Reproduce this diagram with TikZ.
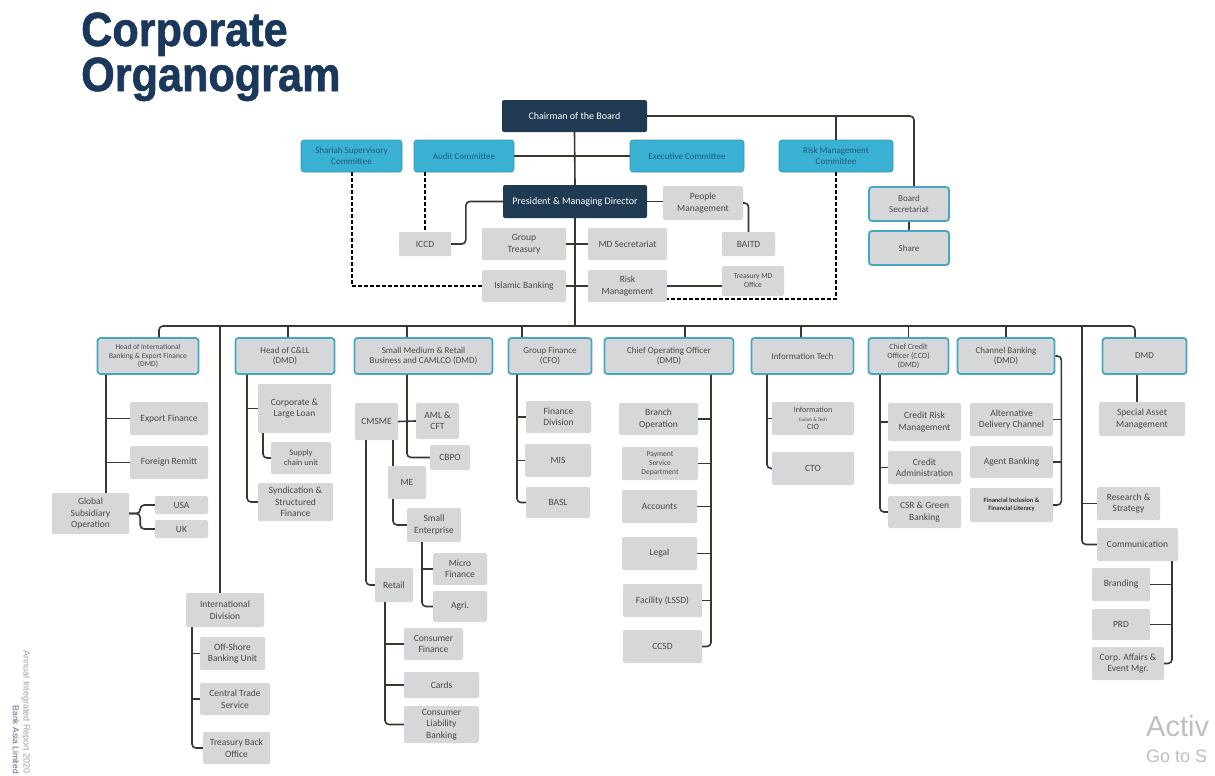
\documentclass[tikz,border=0pt]{standalone}
\usepackage{fontspec}
\setmainfont{Carlito}
\newfontfamily\titlefont[FakeStretch=0.9,FakeBold=1.2]{Liberation Sans}
\newfontfamily\winfont{Liberation Sans}
\usepackage{tikz}
\definecolor{navy}{HTML}{1F3A52}
\definecolor{titleblue}{HTML}{1A385C}
\definecolor{cyanbox}{HTML}{3AB0D3}
\definecolor{cyantext}{HTML}{1E5E7C}
\definecolor{tealedge}{HTML}{45A7C1}
\definecolor{boxgrey}{HTML}{D6D7D9}
\definecolor{unittext}{HTML}{4A4A4A}
\definecolor{wire}{HTML}{3A372F}
\tikzstyle{topbox} = [fill=navy, text=white, rounded corners=2pt, inner sep=1pt,
    align=center, font=\fontsize{10}{12}\selectfont]
\tikzstyle{committee} = [fill=cyanbox, draw=cyanbox!85!black, line width=0.6pt, text=cyantext,
    rounded corners=3pt, inner sep=1pt, align=center, font=\fontsize{9}{10.5}\selectfont]
\tikzstyle{headbox} = [fill=boxgrey, draw=tealedge, line width=1.8pt, text=unittext,
    rounded corners=3pt, inner sep=1pt, align=center, font=\fontsize{9}{10.5}\selectfont]
\tikzstyle{unitbox} = [fill=boxgrey, text=unittext, rounded corners=2pt, inner sep=1pt,
    align=center, font=\fontsize{9.5}{11.5}\selectfont]
\tikzstyle{link} = [draw=wire, line width=1.6pt, rounded corners=4pt]
\tikzstyle{dotlink} = [draw=black, line width=2pt, dash pattern=on 4pt off 2pt]
\tikzset{wh/.style 2 args={minimum width=#1pt, minimum height=#2pt}}

\begin{document}
\begin{tikzpicture}[x=1pt, y=-1pt]
\useasboundingbox (0,0) rectangle (1215,776);
\fill[white] (0,0) rectangle (1215,776);

\node[anchor=base west, inner sep=0pt, text=titleblue, font=\titlefont\bfseries\fontsize{48}{48}\selectfont] (title1) at (81,46) {Corporate};
\node[anchor=base west, inner sep=0pt, text=titleblue, font=\titlefont\bfseries\fontsize{48}{48}\selectfont] (title2) at (81,91) {Organogram};

% board level
\node[topbox, wh={145}{32}] (chair) at (574.5,116) {Chairman of the Board};
\node[committee, wh={101}{32}] (shariah) at (351.5,156) {Shariah Supervisory\\Committee};
\node[committee, wh={100}{32}] (audit) at (464,156) {Audit Committee};
\node[committee, wh={114}{32}] (exec) at (687,156) {Executive Committee};
\node[committee, wh={114}{32}] (rmc) at (836,156) {Risk Management\\Committee};
\node[topbox, wh={144}{33}] (pmd) at (575,201.5) {President \& Managing Director};
\node[unitbox, wh={80}{34}] (people) at (703,203) {People\\Management};
\node[headbox, wh={80}{34}] (boardsec) at (909,204) {Board\\Secretariat};
\node[headbox, wh={80}{34}] (share) at (909,248) {Share};
\node[unitbox, wh={52}{24}] (iccd) at (425,244) {ICCD};
\node[unitbox, wh={84}{32}] (gtreas) at (524,244) {Group\\Treasury};
\node[unitbox, wh={79}{32}] (mdsec) at (627.5,244) {MD Secretariat};
\node[unitbox, wh={53}{24}] (baitd) at (748.5,244) {BAITD};
\node[unitbox, wh={84}{32}] (islamic) at (524,286) {Islamic Banking};
\node[unitbox, wh={79}{32}] (riskm) at (627.5,286) {Risk\\Management};
\node[unitbox, wh={62}{30}, font=\fontsize{7.5}{9}\selectfont] (tmdo) at (753,281) {Treasury MD\\Office};

\draw[link] (chair.south) -- (pmd.north);
\draw[link] (audit.east) -- (exec.west);
\draw[link] (chair.east) -| ([xshift=5pt]boardsec.north);
\draw[link] (rmc.north) -- (rmc.north |- chair.east);
\draw[link] (boardsec.south) -- (share.north);
\draw[link] (pmd.west) -- ++(-37,0) |- (iccd.east);
\draw[link] (pmd.east) -- (pmd.east -| people.west);
\draw[link] (people.east) -| (baitd.north);
\draw[link] (gtreas.east) -- (mdsec.west);
\draw[link] (islamic.east) -- (riskm.west);
\draw[link] (riskm.east) -- (riskm.east -| tmdo.west);
\draw[dotlink] (iccd.north |- audit.south) -- (iccd.north);
\draw[dotlink] (shariah.south) |- (islamic.west);
\draw[dotlink] (rmc.south) |- ([yshift=-13pt]riskm.east);

% divisions
\node[headbox, wh={101}{36}, font=\fontsize{7.5}{8.5}\selectfont] (hib) at (148,356) {Head of International\\Banking \& Export Finance\\(DMD)};
\node[headbox, wh={99}{36}] (hcll) at (285,356) {Head of C\&LL\\(DMD)};
\node[headbox, wh={138}{36}] (smr) at (423.5,356) {Small Medium \& Retail\\Business and CAMLCO (DMD)};
\node[headbox, wh={83}{36}] (gfin) at (550,356) {Group Finance\\(CFO)};
\node[headbox, wh={129}{36}] (coo) at (669,356) {Chief Operating Officer\\(DMD)};
\node[headbox, wh={102}{36}] (itech) at (802.5,356) {Information Tech};
\node[headbox, wh={80}{36}, font=\fontsize{8}{9}\selectfont] (cco) at (908.5,356) {Chief Credit\\Officer (CCO)\\(DMD)};
\node[headbox, wh={97}{36}] (chb) at (1006,356) {Channel Banking\\(DMD)};
\node[headbox, wh={84}{36}] (dmd) at (1144.5,356) {DMD};

\coordinate (bus) at (575,326);
\coordinate (bus2) at (220,326);
\coordinate (bus9) at (1082,326);
\draw[link] ([xshift=11pt]hib.north) |- (bus) -| ([xshift=-9.5pt]dmd.north);
\draw[link] (pmd.south) -- (bus);
\draw[link] ([xshift=3pt]hcll.north) -- ++(0,-12);
\draw[link] ([xshift=-16.5pt]smr.north) -- ++(0,-12);
\draw[link] ([xshift=-28pt]gfin.north) -- ++(0,-12);
\draw[link] ([xshift=16pt]coo.north) -- ++(0,-12);
\draw[link] ([xshift=-1.5pt]itech.north) -- ++(0,-12);
\draw[link] (cco.north) -- ++(0,-12);
\draw[link] (chb.north) -- ++(0,-12);

% international banking
\node[unitbox, wh={78}{33}] (expf) at (169,418.5) {Export Finance};
\node[unitbox, wh={78}{33}] (frem) at (169,462.5) {Foreign Remitt};
\node[unitbox, wh={77}{41}] (gso) at (90.5,513.5) {Global\\Subsidiary\\Operation};
\node[unitbox, wh={53}{18}] (usa) at (181.5,505) {USA};
\node[unitbox, wh={53}{18}] (uk) at (181.5,529) {UK};
\coordinate (s1) at ([xshift=-42pt]hib.south);
\draw[link] (s1) -- (s1 |- gso.north);
\draw[link] (s1 |- expf.west) -- (expf.west);
\draw[link] (s1 |- frem.west) -- (frem.west);
\draw[link] (gso.east) -- ++(11,0) |- (usa.west);
\draw[link] (gso.east) -- ++(11,0) |- (uk.west);

\node[unitbox, wh={78}{34}] (intl) at (225,610) {International\\Division};
\node[unitbox, wh={65}{33}] (osbu) at (232.5,653.5) {Off-Shore\\Banking Unit};
\node[unitbox, wh={70}{32}] (cts) at (235,699) {Central Trade\\Service};
\node[unitbox, wh={67}{32}] (tbo) at (236.5,748) {Treasury Back\\Office};
\draw[link] (bus2) -- (bus2 |- intl.north);
\coordinate (si) at ([xshift=-33pt]intl.south);
\draw[link] (si) |- (tbo.west);
\draw[link] (si |- osbu.west) -- (osbu.west);
\draw[link] (si |- cts.west) -- (cts.west);

% corporate
\node[unitbox, wh={73}{49}] (cll) at (294.5,408.5) {Corporate \&\\Large Loan};
\node[unitbox, wh={60}{32}, font=\fontsize{8.5}{10}\selectfont] (scu) at (301,458) {Supply\\chain unit};
\node[unitbox, wh={75}{38}] (syn) at (295.5,502) {Syndication \&\\Structured\\Finance};
\coordinate (s2) at ([xshift=-38pt]hcll.south);
\draw[link] (s2) |- (syn.west);
\draw[link] (s2 |- cll.west) -- (cll.west);
\draw[link] ([xshift=-31.5pt]cll.south) |- (scu.west);

% sme and retail
\node[unitbox, wh={43}{37}] (cmsme) at (376.5,421.5) {CMSME};
\node[unitbox, wh={43}{36}] (aml) at (437.5,421) {AML \&\\CFT};
\node[unitbox, wh={40}{25}] (cbpo) at (450,457.5) {CBPO};
\node[unitbox, wh={38}{33}] (me) at (407,482.5) {ME};
\node[unitbox, wh={54}{34}] (smle) at (434,525) {Small\\Enterprise};
\node[unitbox, wh={54}{32}] (micro) at (460,569) {Micro\\Finance};
\node[unitbox, wh={54}{31}] (agri) at (460,606.5) {Agri.};
\node[unitbox, wh={38}{34}] (retail) at (394,585) {Retail};
\node[unitbox, wh={59}{32}] (cfin) at (433.5,644) {Consumer\\Finance};
\node[unitbox, wh={75}{26}] (cards) at (441.5,685) {Cards};
\node[unitbox, wh={75}{37}] (clb) at (441.5,724.5) {Consumer\\Liability\\Banking};
\coordinate (s3) at ([xshift=-16.5pt]smr.south);
\draw[link] (s3) |- (cbpo.west);
\draw[link] (cmsme.east) -- (aml.west);
\coordinate (c1) at ([xshift=16.5pt]cmsme.south);
\draw[link] (c1) -- (c1 |- me.north);
\draw[link] ([xshift=-14pt]me.south) |- (smle.west);
\coordinate (c2) at ([xshift=-12pt]smle.south);
\draw[link] (c2) |- (agri.west);
\draw[link] (c2 |- micro.west) -- (micro.west);
\draw[link] ([xshift=-10.5pt]cmsme.south) |- (retail.west);
\coordinate (c3) at ([xshift=-9pt]retail.south);
\draw[link] (c3) |- (clb.west);
\draw[link] (c3 |- cfin.west) -- (cfin.west);
\draw[link] (c3 |- cards.west) -- (cards.west);

% finance
\node[unitbox, wh={65}{32}] (fdiv) at (558.5,417) {Finance\\Division};
\node[unitbox, wh={66}{33}] (mis) at (558,460.5) {MIS};
\node[unitbox, wh={64}{31}] (basl) at (558,502.5) {BASL};
\coordinate (s4) at ([xshift=-33pt]gfin.south);
\draw[link] (s4) |- (basl.west);
\draw[link] (s4 |- fdiv.west) -- (fdiv.west);
\draw[link] (s4 |- mis.west) -- (mis.west);

% operations
\node[unitbox, wh={79}{32}] (brop) at (658.5,419) {Branch\\Operation};
\node[unitbox, wh={76}{33}, font=\fontsize{7.5}{9}\selectfont] (psd) at (660,463.5) {Payment\\Service\\Department};
\node[unitbox, wh={75}{33}] (acc) at (659.5,506.5) {Accounts};
\node[unitbox, wh={75}{33}] (legal) at (659.5,553.5) {Legal};
\node[unitbox, wh={79}{33}] (lssd) at (662.5,600.5) {Facility (LSSD)};
\node[unitbox, wh={79}{33}] (ccsd) at (662.5,646.5) {CCSD};
\coordinate (s5) at ([xshift=42pt]coo.south);
\draw[link] (s5) |- (ccsd.east);
\draw[link] (s5 |- brop.east) -- (brop.east);
\draw[link] (s5 |- psd.east) -- (psd.east);
\draw[link] (s5 |- acc.east) -- (acc.east);
\draw[link] (s5 |- legal.east) -- (legal.east);
\draw[link] (s5 |- lssd.east) -- (lssd.east);

% it
\node[unitbox, wh={82}{33}, font=\fontsize{8}{8.5}\selectfont] (cio) at (813,418.5) {Information\\{\fontsize{5}{6}\selectfont Comm \& Tech}\\CIO};
\node[unitbox, wh={82}{33}] (cto) at (813,468.5) {CTO};
\coordinate (s6) at ([xshift=-35.5pt]itech.south);
\draw[link] (s6) |- (cto.west);
\draw[link] (s6 |- cio.west) -- (cio.west);

% credit
\node[unitbox, wh={73}{38}] (crm) at (924.5,422) {Credit Risk\\Management};
\node[unitbox, wh={73}{33}] (cadm) at (924.5,467.5) {Credit\\Administration};
\node[unitbox, wh={73}{32}] (csr) at (924.5,512) {CSR \& Green\\Banking};
\coordinate (s7) at ([xshift=-28.5pt]cco.south);
\draw[link] (s7) |- (csr.west);
\draw[link] (s7 |- crm.west) -- (crm.west);
\draw[link] (s7 |- cadm.west) -- (cadm.west);

% channel banking
\node[unitbox, wh={83}{33}] (adc) at (1011.5,419.5) {Alternative\\Delivery Channel};
\node[unitbox, wh={83}{32}] (agent) at (1011.5,462) {Agent Banking};
\node[unitbox, wh={83}{34}, text=black!80, font=\bfseries\fontsize{6.5}{8}\selectfont] (finc) at (1011.5,505) {Financial Inclusion \&\\Financial Literacy};
\coordinate (s8) at ([xshift=6pt]chb.east);
\draw[link] (chb.east) -- (s8) |- (finc.east);
\draw[link] (s8 |- adc.east) -- (adc.east);
\draw[link] (s8 |- agent.east) -- (agent.east);

% research and communication
\node[unitbox, wh={63}{33}] (rs) at (1128.5,503.5) {Research \&\\Strategy};
\node[unitbox, wh={81}{33}] (comm) at (1137.5,544.5) {Communication};
\node[unitbox, wh={58}{33}] (brand) at (1121,584.5) {Branding};
\node[unitbox, wh={58}{31}] (prd) at (1121,624.5) {PRD};
\node[unitbox, wh={72}{33}] (corp) at (1128,663.5) {Corp. Affairs \&\\Event Mgr.};
\draw[link] (bus9) |- (comm.west);
\draw[link] (bus9 |- rs.west) -- (rs.west);
\coordinate (s9) at ([xshift=34.5pt]comm.south);
\draw[link] (s9) |- (corp.east);
\draw[link] (s9 |- brand.east) -- (brand.east);
\draw[link] (s9 |- prd.east) -- (prd.east);

\node[unitbox, wh={86}{34}] (sam) at (1142,419) {Special Asset\\Management};
\coordinate (s10) at ([xshift=-7.5pt]dmd.south);
\draw[link] (s10) -- (s10 |- sam.north);

\node[rotate=-90, anchor=east, inner sep=0pt, text=gray!75, font=\winfont\fontsize{9}{10}\selectfont] (report) at (26,774) {Annual Integrated Report 2020};
\node[rotate=-90, anchor=east, inner sep=0pt, text=titleblue!75, font=\winfont\fontsize{8.5}{10}\selectfont] (bankasia) at (16,774) {Bank Asia Limited};
\node[anchor=west, inner sep=0pt, text=gray!50, font=\winfont\fontsize{29}{29}\selectfont] (activ) at (1146,726) {Activ};
\node[anchor=west, inner sep=0pt, text=gray!50, font=\winfont\fontsize{18}{18}\selectfont] (goto) at (1146,756) {Go to S};
\end{tikzpicture}
\end{document}
